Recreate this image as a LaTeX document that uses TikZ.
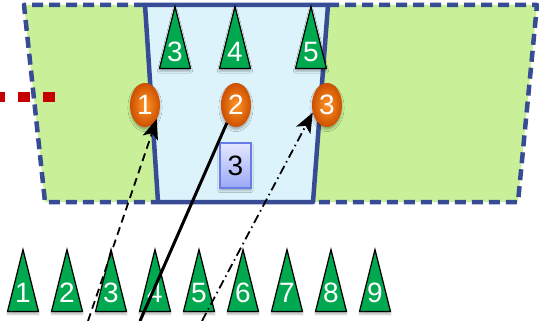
\documentclass[tikz,border=0pt]{standalone}
\usepackage{fontspec}
\setmainfont{Liberation Sans}
\usetikzlibrary{shapes.geometric,shadows.blur,arrows.meta}
\definecolor{conegreen}{RGB}{0,168,80}
\definecolor{fieldgreen}{RGB}{201,240,152}
\definecolor{boxblue}{RGB}{221,243,251}
\definecolor{edgeblue}{RGB}{56,76,150}
\definecolor{flagred}{RGB}{196,0,0}
\definecolor{balllight}{RGB}{255,150,40}
\definecolor{balldark}{RGB}{205,80,0}
\definecolor{tagtop}{RGB}{228,232,255}
\definecolor{tagbottom}{RGB}{155,168,245}
\definecolor{tagedge}{RGB}{105,125,230}
\begin{document}
\begin{tikzpicture}[x=1pt, y=-1pt,
	cone/.style={isosceles triangle, isosceles triangle stretches, shape border rotate=90, minimum width=31pt, minimum height=62pt, inner sep=0pt, anchor=apex, fill=conegreen, draw=black, line width=1.2pt, blur shadow={shadow xshift=0pt, shadow yshift=-2.5pt, shadow blur steps=4, shadow opacity=30}},
	conenum/.style={text=white, inner sep=0pt, font=\fontsize{28}{28}\selectfont},
	player/.style={ellipse, minimum width=30pt, minimum height=44pt, inner sep=0pt, inner color=balllight, outer color=balldark, text=white, font=\fontsize{28}{28}\selectfont, blur shadow={shadow xshift=0pt, shadow yshift=-2.5pt, shadow blur steps=4, shadow opacity=30}},
	tag/.style={rectangle, minimum width=31pt, minimum height=45pt, inner sep=0pt, top color=tagtop, bottom color=tagbottom, draw=tagedge, line width=1.2pt, font=\fontsize{28}{28}\selectfont, blur shadow={shadow xshift=0pt, shadow yshift=-2.5pt, shadow blur steps=4, shadow opacity=30}},
	edge/.style={draw=edgeblue, line width=4.5pt, line join=round, line cap=round},
	edgedash/.style={edge, line cap=butt, dash pattern=on 11pt off 6pt},
	run/.style={line width=1.8pt, -{Stealth[length=20pt, width=16pt, inset=5pt]}}]
	\useasboundingbox (0,0) rectangle (539,321);
	
	\fill [fieldgreen] (24,5) -- (145,5) -- (158,202) -- (45,202) -- cycle;
	\fill [boxblue] (145,5) -- (328,5) -- (313,202) -- (158,202) -- cycle;
	\fill [fieldgreen] (328,5) -- (537,5) -- (518,202) -- (313,202) -- cycle;
	
	\draw [edgedash] (145,5) -- (24,5) -- (45,202) -- (158,202);
	\draw [edgedash] (328,5) -- (537,5) -- (518,202) -- (313,202);
	\draw [edge] (145,5) -- (328,5) -- (313,202) -- (158,202) -- cycle;
	
	\draw [flagred, line width=10pt, dash pattern=on 12pt off 13pt, dash phase=7pt] (0,97) -- (55,97);
	
	\node [cone] (3) at (175,5) {};
	\node [cone] (4) at (235,5) {};
	\node [cone] (5) at (311,5) {};
	\node [conenum] (n3) at (175,52) {3};
	\node [conenum] (n4) at (235,52) {4};
	\node [conenum] (n5) at (311,52) {5};
	
	\foreach \i in {1,...,9} {
		\node [cone] (b\i) at ({23+44*(\i-1)},248) {};
		\node [conenum] (bn\i) at ({23+44*(\i-1)},293) {\i};
	}
	
	\node [player] (p1) at (145,105) {1};
	\node [player] (p2) at (236,105) {2};
	\node [player] (p3) at (327,105) {3};
	
	\node [tag] (tg) at (235.5,165.5) {3};
	
	\coordinate (s1) at (88,321);
	\coordinate (s2) at (140,321);
	\coordinate (s3) at (202,321);
	
	\draw [run, dash pattern=on 8pt off 5pt] (s1) -- (p1.-50);
	\draw [line width=3pt] (s2) -- (p2.243);
	\draw [run, dash pattern=on 9pt off 4pt on 1.5pt off 4pt] (s3) -- (p3.208);
\end{tikzpicture}
\end{document}
